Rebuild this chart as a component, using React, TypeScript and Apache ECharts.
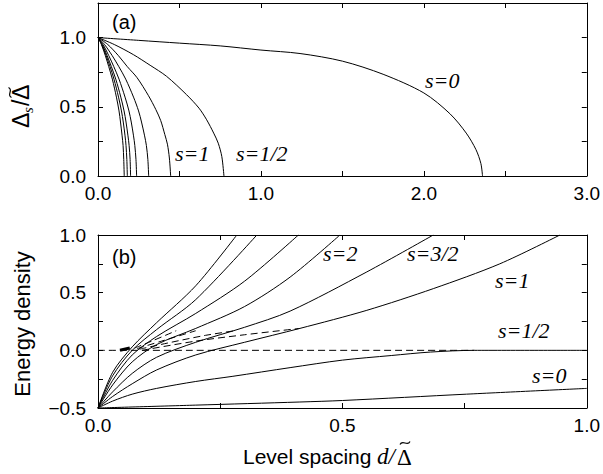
import React, { useEffect, useRef } from "react";
import * as echarts from "echarts";

// ---------- data: panel (a) gap ratio vs level spacing ----------
const gapS0 = [[0, 1], [0.25, 0.98], [0.5, 0.96], [0.75, 0.94], [1.0, 0.91], [1.24, 0.885], [1.5, 0.83], [1.75, 0.735], [2.0, 0.6], [2.16, 0.45], [2.26, 0.31], [2.32, 0.19], [2.35, 0.09], [2.36, 0]];
const gapS1_2 = [[0, 1], [0.1, 0.95], [0.217, 0.877], [0.32, 0.8], [0.421, 0.72], [0.544, 0.587], [0.62, 0.49], [0.667, 0.406], [0.71, 0.31], [0.738, 0.237], [0.76, 0.14], [0.773, 0]];
const gapS1 = [[0, 1], [0.06, 0.95], [0.125, 0.87], [0.18, 0.79], [0.24, 0.71], [0.31, 0.58], [0.355, 0.48], [0.385, 0.4], [0.41, 0.3], [0.426, 0.23], [0.438, 0.13], [0.446, 0]];
const gapS3_2 = [[0, 1], [0.04, 0.95], [0.087, 0.87], [0.128, 0.79], [0.17, 0.7], [0.218, 0.57], [0.249, 0.47], [0.267, 0.39], [0.286, 0.29], [0.297, 0.22], [0.306, 0.12], [0.311, 0]];
const gapS2 = [[0, 1], [0.031, 0.95], [0.066, 0.87], [0.097, 0.79], [0.129, 0.7], [0.166, 0.57], [0.19, 0.47], [0.204, 0.39], [0.218, 0.29], [0.226, 0.22], [0.233, 0.12], [0.237, 0]];
const gapS5_2 = [[0, 1], [0.026, 0.95], [0.056, 0.87], [0.082, 0.79], [0.109, 0.7], [0.14, 0.57], [0.16, 0.47], [0.172, 0.39], [0.184, 0.29], [0.191, 0.22], [0.197, 0.12], [0.2, 0]];
const gapS3 = [[0, 1], [0.023, 0.95], [0.05, 0.87], [0.074, 0.79], [0.098, 0.7], [0.126, 0.57], [0.144, 0.47], [0.155, 0.39], [0.166, 0.29], [0.172, 0.22], [0.177, 0.12], [0.18, 0]];
const gapS7_2 = [[0, 1], [0.021, 0.95], [0.045, 0.87], [0.066, 0.79], [0.088, 0.7], [0.113, 0.57], [0.129, 0.47], [0.138, 0.39], [0.148, 0.29], [0.154, 0.22], [0.158, 0.12], [0.161, 0]];

// ---------- data: panel (b) energy density vs level spacing ----------
const enS0 = [[0, -0.5], [0.2, -0.475], [0.413, -0.448], [0.5, -0.435], [0.754, -0.38], [1.0, -0.33]];
const enS1_2 = [[0, -0.5], [0.03, -0.44], [0.07, -0.38], [0.12, -0.33], [0.2, -0.27], [0.276, -0.225], [0.393, -0.15], [0.5, -0.085], [0.6, -0.045], [0.68, -0.015], [0.77, 0], [1.0, 0]];
const enS1 = [[0, -0.5], [0.03, -0.4], [0.07, -0.29], [0.12, -0.17], [0.2, -0.04], [0.3, 0.07], [0.413, 0.19], [0.55, 0.347], [0.686, 0.535], [0.822, 0.75], [0.945, 1.0]];
const enS3_2 = [[0, -0.5], [0.03, -0.36], [0.07, -0.2], [0.12, -0.06], [0.2, 0.07], [0.3, 0.2], [0.393, 0.34], [0.55, 0.68], [0.686, 1.0]];
const enS2 = [[0, -0.5], [0.03, -0.3], [0.07, -0.1], [0.12, 0.05], [0.2, 0.19], [0.3, 0.38], [0.393, 0.635], [0.495, 1.0]];
const enS5_2 = [[0, -0.5], [0.03, -0.26], [0.07, -0.04], [0.12, 0.12], [0.2, 0.32], [0.3, 0.6], [0.41, 1.0]];
const enS3 = [[0, -0.5], [0.03, -0.22], [0.07, 0.0], [0.12, 0.18], [0.2, 0.44], [0.325, 1.0]];
const enS7_2 = [[0, -0.5], [0.03, -0.19], [0.07, 0.03], [0.12, 0.24], [0.2, 0.56], [0.284, 1.0]];
const pertS1 = [[0.09, 0.0], [0.2, 0.08], [0.3, 0.135], [0.413, 0.19]];
const pertS3_2 = [[0.085, 0.01], [0.15, 0.07], [0.22, 0.13], [0.28, 0.17]];
const pertS2 = [[0.08, 0.015], [0.13, 0.08], [0.2, 0.17]];
const pertS5_2 = [[0.075, 0.02], [0.11, 0.08], [0.16, 0.17]];
const pertShort = [[0.045, 0.0], [0.065, 0.02]];
const zeroLine = [[0, 0], [0.77, 0]];

const topCurves = [gapS0, gapS1_2, gapS1, gapS3_2, gapS2, gapS5_2, gapS3, gapS7_2];
const bottomSolid = [enS0, enS1_2, enS1, enS3_2, enS2, enS5_2, enS3, enS7_2];
const bottomDashed = [pertS1, pertS3_2, pertS2, pertS5_2, zeroLine];

const SANS = "Liberation Sans";
const SERIF = "Liberation Serif";

const isMult = (v: number, step: number) => Math.abs(v / step - Math.round(v / step)) < 1e-6;
const fmt = (step: number) => (v: number) => (isMult(v, step) ? (v < 0 ? "\u2212" + Math.abs(v).toFixed(1) : v.toFixed(1)) : "");

function axisBase(gridIndex: number, min: number, max: number, interval: number, labelStep: number, position: string, showLabel: boolean) {
  return {
    type: "value",
    gridIndex,
    min,
    max,
    interval,
    position,
    axisLine: { show: true, onZero: false, lineStyle: { color: "#000", width: 1 } },
    axisTick: { show: true, inside: true, length: 5, lineStyle: { color: "#000", width: 1 } },
    axisLabel: {
      show: showLabel,
      formatter: fmt(labelStep),
      color: "#000",
      fontSize: 19,
      fontFamily: SANS,
      margin: position === "left" ? 12 : 8,
      showMinLabel: true,
      showMaxLabel: true,
    },
    splitLine: { show: false },
  };
}

function label(text: string, x: number, y: number) {
  return {
    type: "text",
    x,
    y,
    style: { text, font: `italic 22px "${SERIF}"`, fill: "#000", textVerticalAlign: "middle" },
  };
}

function tilde(x: number, y: number) {
  // small tilde accent drawn as a curve, centred at (x, y) in local coordinates
  return {
    type: "bezierCurve",
    shape: { x1: x - 5, y1: y + 1.5, cpx1: x - 2.5, cpy1: y - 4, cpx2: x + 2.5, cpy2: y + 4, x2: x + 5, y2: y - 1.5 },
    style: { stroke: "#000", lineWidth: 1.2, fill: null },
  };
}

export default function App() {
  const ref = useRef<HTMLDivElement>(null);
  useEffect(() => {
    if (!ref.current) return;
    const chart = echarts.init(ref.current, null, { renderer: "svg" });
    const line = (data: number[][], xi: number, yi: number, dashed = false, width = 1) => ({
      type: "line",
      xAxisIndex: xi,
      yAxisIndex: yi,
      data,
      showSymbol: false,
      symbol: "none",
      smooth: 0.3,
      lineStyle: { color: "#000", width, type: dashed ? [7, 4] : "solid" },
      silent: true,
    });
    const series: any[] = [];
    topCurves.forEach((d) => series.push(line(d, 0, 0)));
    bottomDashed.forEach((d) => series.push(line(d, 2, 2, true)));
    series.push(line(pertShort, 2, 2, false, 3));
    bottomSolid.forEach((d) => series.push(line(d, 2, 2)));

    const txt = (text: string, x: number, y: number, font: string, extra: any = {}) => ({
      type: "text",
      x,
      y,
      style: { text, font, fill: "#000", textVerticalAlign: "middle", ...extra },
    });

    chart.setOption({
      animation: false,
      backgroundColor: "#fff",
      grid: [
        { left: 98, top: 3, width: 489, height: 173 },
        { left: 98, top: 235, width: 489, height: 173 },
      ],
      xAxis: [
        axisBase(0, 0, 3, 0.5, 1, "bottom", true),
        axisBase(0, 0, 3, 0.5, 1, "top", false),
        axisBase(1, 0, 1, 0.25, 0.5, "bottom", true),
        axisBase(1, 0, 1, 0.25, 0.5, "top", false),
      ],
      yAxis: [
        axisBase(0, 0, 1.25, 0.25, 0.5, "left", true),
        axisBase(0, 0, 1.25, 0.25, 0.5, "right", false),
        axisBase(1, -0.5, 1, 0.25, 0.5, "left", true),
        axisBase(1, -0.5, 1, 0.25, 0.5, "right", false),
      ],
      series,
      graphic: [
        txt("(a)", 112, 22, `20px "${SANS}"`),
        txt("(b)", 112, 257, `20px "${SANS}"`),
        label("s=0", 425, 80),
        label("s=1", 175, 153),
        label("s=1/2", 236, 153),
        label("s=2", 323, 253),
        label("s=3/2", 407, 253),
        label("s=1", 495, 280),
        label("s=1/2", 498, 330),
        label("s=0", 532, 375),
        // x axis title
        txt("Level spacing", 243, 456, `21px "${SANS}"`),
        txt("d/", 377, 456, `italic 23px "${SERIF}"`),
        txt("\u0394", 397, 457, `23px "${SERIF}"`),
        tilde(405, 443),
        // y axis title bottom
        {
          type: "text",
          x: 22,
          y: 324,
          rotation: Math.PI / 2,
          style: { text: "Energy density", font: `22px "${SANS}"`, fill: "#000", textAlign: "center", textVerticalAlign: "middle" },
        },
        // y axis title top (rotated group)
        {
          type: "group",
          x: 21,
          y: 105,
          rotation: Math.PI / 2,
          children: [
            txt("\u0394", -23, 0, `23px "${SANS}"`),
            txt("s", -8, 7, `italic 15px "${SERIF}"`),
            txt("/", -1, 0, `23px "${SANS}"`),
            txt("\u0394", 5, 0, `23px "${SANS}"`),
            tilde(12.5, -11),
          ],
        },
      ],
    });
    return () => chart.dispose();
  }, []);
  return <div ref={ref} style={{ position: "fixed", left: 0, top: 0, width: 603, height: 474 }} />;
}
